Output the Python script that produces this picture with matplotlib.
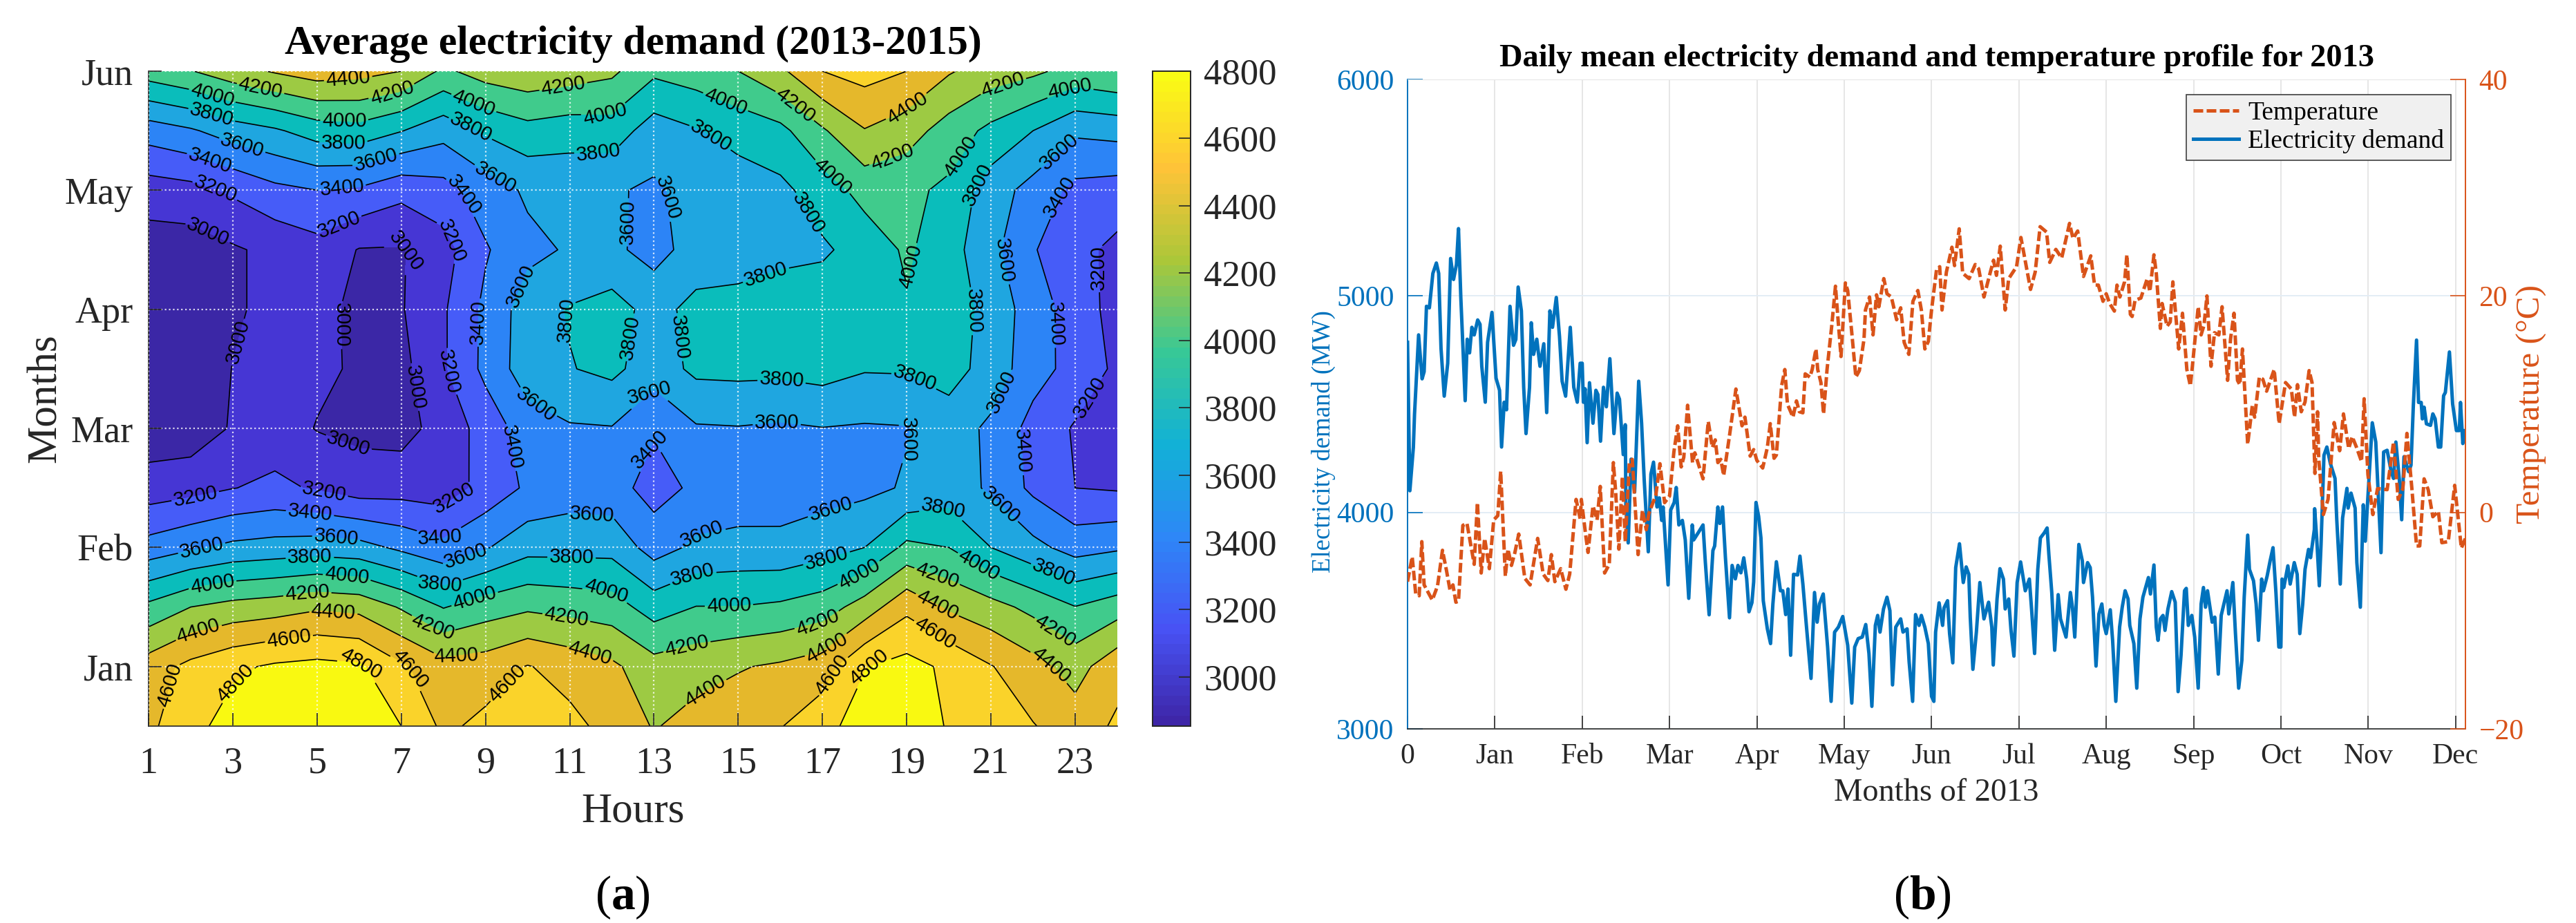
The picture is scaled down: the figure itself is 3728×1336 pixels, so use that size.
import matplotlib
matplotlib.use("Agg")
import matplotlib.pyplot as plt
import numpy as np
from matplotlib.colors import LinearSegmentedColormap, Normalize
from matplotlib.cm import ScalarMappable

plt.rcParams['font.family'] = ['Liberation Serif', 'DejaVu Serif']
plt.rcParams['mathtext.fontset'] = 'custom'
plt.rcParams['mathtext.rm'] = 'Liberation Serif'
plt.rcParams['mathtext.bf'] = 'Liberation Serif:bold'

W, H = 3728, 1336

# ---- panel a: hours x 12 rows, bottom row first
hours = np.arange(1, 25)
rows = np.arange(1, 13)
month_labels = ['Jan', 'Feb', 'Mar', 'Apr', 'May', 'Jun']
r1 = [4560,4730,4890,4960,4980,4920,4800,4560,4650,4740,4650,4540,4385,4480,4520,4590,4730,4900,4950,4780,4700,4610,4500,4630]
r2 = [4500,4655,4760,4830,4860,4830,4630,4470,4500,4610,4530,4440,4277,4320,4385,4430,4500,4790,4870,4760,4610,4470,4320,4535]
r3 = [4050,4200,4270,4307,4370,4340,4180,3990,4100,4165,4130,4090,3908,4005,4005,4035,4100,4290,4550,4370,4270,4145,4005,4109]
r4 = [3480,3570,3648,3678,3700,3672,3560,3455,3583,3731,3735,3734,3516,3640,3665,3655,3720,3800,4050,4000,3800,3660,3520,3569]
r5 = [3090,3130,3195,3240,3180,3100,3113,3092,3270,3432,3500,3481,3319,3440,3480,3500,3520,3550,3620,3700,3570,3355,3200,3180]
r6 = [2880,2880,3020,3100,2990,2950,2930,3075,3280,3500,3580,3590,3420,3580,3590,3570,3595,3580,3590,3700,3560,3330,3180,3080]
r7 = [2850,2860,3005,3100,3045,2970,2940,3175,3450,3712,3790,3850,3692,3846,3855,3850,3880,3815,3820,3880,3720,3480,3330,3160]
r8 = [2850,2860,2970,3060,3050,2960,2985,3176,3445,3700,3815,3882,3730,3860,3860,3880,3920,3930,3980,3920,3720,3510,3300,3130]
r9 = [2900,2900,2975,3050,3126,2990,2985,3120,3380,3550,3620,3640,3530,3680,3720,3760,3770,3880,4030,3880,3660,3415,3260,3150]
r10 = [3100,3135,3233,3348,3400,3370,3260,3325,3500,3630,3650,3620,3570,3670,3700,3750,3900,4070,4045,3960,3693,3530,3344,3313]
r11 = [3495,3575,3696,3773,3892,3920,3808,3675,3830,3930,3890,3910,3700,3785,3870,3945,4175,4390,4290,4110,3950,3800,3635,3665]
r12 = [4100,4190,4320,4420,4500,4470,4400,4160,4290,4345,4300,4240,4040,4100,4200,4360,4600,4675,4600,4420,4300,4240,4130,4190]
demand_grid = np.array([r1, r2, r3, r4, r5, r6, r7, r8, r9, r10, r11, r12])
line_levels = np.arange(3000, 4801, 200)
fill_levels = [2700] + list(line_levels) + [5200]
band_colors = ['#3b27a6', '#4636d4', '#465cf8', '#2c84f6', '#1fa6e0', '#0abdbb',
               '#40cb8c', '#9dca43', '#e5b82b', '#fad32a', '#f9f911']
parula_keys = [(0.2422,0.1504,0.6603), (0.2810,0.3228,0.9579), (0.1786,0.5289,0.9682),
               (0.0689,0.6948,0.8394), (0.2161,0.7843,0.5923), (0.6720,0.7793,0.2227),
               (0.9970,0.7659,0.2199), (0.9769,0.9839,0.0805)]
# where the contour labels sit in the reference (hour, row)
label_spots = [(5.74,11.86),(3.65,11.68),(6.78,11.64),(10.84,11.77),(2.5,11.56),(8.72,11.46),(11.84,11.41),(5.65,11.18),
 (2.5,11.27),(5.63,10.82),(8.67,11.08),(11.68,10.7),(3.23,10.77),(6.39,10.52),(9.24,10.23),(2.47,10.52),(5.59,10.04),
 (8.49,9.92),(2.6,10.04),(5.53,9.4),(8.2,9.15),(2.44,9.34),(7.1,8.98),(9.71,8.42),(12.45,9.46),(13.64,9.9),(3.12,7.45),
 (5.7,7.74),(8.75,7.78),(10.81,7.81),(12.43,7.53),(13.58,7.53),(7.2,6.68),(8.2,6.97),(10.26,6.49),(13,6.51),(5.72,5.69),
 (9.6,5.68),(12.98,5.62),(2.13,4.79),(5.16,4.9),(8.2,4.88),(4.83,4.56),(7.93,4.19),(11.51,4.42),(2.27,3.95),(5.45,4.13),
 (8.54,3.84),(4.83,3.83),(7.93,3.4),(11.04,3.78),(2.52,3.37),(5.71,3.51),(8.75,3.12),(11.86,3.21),(4.77,3.23),(7.8,2.72),
 (10.92,2.83),(2.23,2.45),(5.37,2.78),(8.32,2.14),(11.44,2.12),(4.33,2.48),(7.31,1.99),(9.43,1.77),(1.58,1.67),(3.1,1.69),
 (6,1.99),(14.69,11.47),(16.29,11.37),(21.3,11.72),(22.88,11.69),(19,11.39),(14.33,10.89),(18.7,10.46),(20.17,10.62),
 (17.14,10.15),(20.7,10.09),(16.8,9.67),(22.6,10.66),(22.66,9.88),(19.03,8.73),(21.28,8.81),(23.46,8.69),(15.8,8.28),
 (20.61,7.97),(22.53,7.76),(16.03,6.82),(19.14,6.78),(21.24,6.62),(23.37,6.51),(15.91,6.14),(18.88,5.83),(21.75,5.62),
 (21.19,4.69),(19.86,4.68),(17.25,4.51),(14.16,4.16),(22.48,3.57),(20.68,3.67),(17.12,3.76),(13.93,3.51),(19.65,3.37),
 (17.88,3.55),(14.78,3),(22.57,2.65),(19.68,2.97),(16.92,2.66),(13.8,2.28),(19.59,2.47),(17.03,2.39),(22.53,2.14),
 (14.07,1.77),(17.14,1.89),(18,2.05)]

# ---- panel b: turning points of the daily curves
demand_day = [0,0.8,2,2.4,3.8,5,5.7,6.5,7.5,8.7,9.9,10.7,11.5,12.6,13.8,14.8,15.8,16.8,17.5,18.3,19.8,20.5,21.3,22.1,22.9,24.1,24.9,25.5,26.7,27.5,29,30.4,31.6,32.3,33.2,34,35.2,36.4,37.2,38,39.1,39.9,40.7,41.9,42.5,43.3,44.4,45.5,46.8,47.8,48.9,49.8,51.1,52.2,53.1,54.3,55.9,57.1,58.3,59.3,
60,60.4,61,61.7,62.5,63.7,64.7,65.4,66.3,67.3,68.3,69.5,70.9,72,72.8,74.1,74.8,75,75.8,76.8,78,79.4,80.4,81.3,82.7,83.6,84.5,85.7,86.5,87.3,87.8,89.5,90.4,91.6,92.3,93.2,94.4,95.4,96.6,97.8,98.3,99.9,101.5,102.3,103.6,104.9,105.5,106.6,107.3,108.2,109.2,110.6,111.5,112.6,113.5,114.5,115.5,116.5,117.3,118.3,118.9,119.7,
120.6,121.4,122.2,123.6,124.7,125.5,126.7,128.1,128.9,129.9,130.7,131.6,132.6,134,134.8,135.8,137,138.6,139.8,140.7,141.5,142.8,144.3,145.5,146.7,148,149.5,151.2,152.6,153.6,154.8,156.2,157.4,158.5,159.5,160.7,161.5,162.3,163.5,164.7,165.7,166.6,167.7,169.4,170.2,171.6,172.3,173.5,174.5,175.7,176.5,177.7,178.9,180,
180.8,181.4,182.6,183.8,184.3,185.5,186.2,187.3,188.3,189.6,190.9,191.9,192.8,193.3,194.2,195.4,196.6,198,199.6,200.7,201.2,202.5,203.5,204.7,205.3,206.5,207.3,208.3,209.4,210.6,212.2,213.6,214.4,215.4,216.5,217.4,218.7,219.7,220.3,221.3,222.3,223.5,224.3,226.2,227.7,228.4,229.2,230.6,231.8,232.2,233.6,234.5,235.3,236.5,237.5,238.5,239.3,240,
241.4,242.2,243.3,244.6,245.5,246.5,247.5,248.1,249.5,250.5,251.6,252.6,254.5,255.2,256.4,257.2,257.8,258.6,259.5,260.2,261.2,262.5,263.7,264.7,265.7,266.9,267.5,268.2,269.4,270.4,271.6,272.6,273.4,274.1,274.8,276.4,277.3,278.5,279.5,281.5,282.1,283.5,284.4,285.5,286.6,287.4,288.6,289.2,290.6,291.5,292.3,293.4,294,295.3,296.3,297.3,298.3,299.3,300,
300.4,301,302.4,303.2,304.6,305.6,306.5,307.5,308.3,309.5,310.2,311.5,311.6,312.3,313.2,313.8,314.8,315.8,317,318.6,319.2,320.4,321.2,322.7,323.1,324.1,325.5,326.1,327.3,328.3,329,330,331.4,332.6,333.2,334.4,335.3,336.5,337.9,338.7,339.5,340.7,341.5,342.3,343.9,344.7,345.5,346.6,347.3,348.2,348.6,349.2,350,351.4,352.2,353,354.1,354.9,355.9,356.5,357.9,359,360.3,361.3,361.7,362.5,363,363.4]
demand_mw = [4786,4100,4300,4454,4820,4617,4650,4952,4945,5104,5152,5104,4758,4537,4689,5173,5076,5145,5311,4993,4516,4800,4737,4855,4820,4889,4869,4675,4509,4786,4924,4620,4564,4302,4509,4474,4952,4772,4799,5041,4931,4578,4364,4578,4876,4730,4800,4675,4779,4461,4931,4855,4993,4813,4606,4537,4855,4578,4509,4689,
4689,4509,4571,4322,4599,4412,4564,4544,4329,4578,4488,4710,4364,4551,4523,4267,4405,4025,3859,4246,4094,4606,4412,4149,3818,4177,4232,4025,4067,3963,4025,3665,4011,4046,4115,3942,3963,3873,3603,3942,3873,3907,3942,3769,3527,3824,3845,4025,3949,4025,3790,3513,3755,3693,3755,3721,3790,3693,3541,3583,3679,4046,
3982,3882,3592,3462,3394,3577,3772,3638,3638,3528,3646,3340,3714,3711,3798,3669,3478,3233,3630,3493,3577,3623,3378,3127,3447,3470,3519,3386,3119,3378,3417,3424,3482,3348,3104,3478,3524,3447,3554,3608,3546,3203,3470,3508,3447,3462,3310,3127,3528,3478,3524,3470,3394,3150,
3127,3447,3582,3478,3559,3592,3440,3305,3745,3855,3676,3748,3714,3516,3275,3447,3676,3508,3585,3470,3295,3600,3740,3692,3554,3600,3455,3336,3676,3771,3638,3692,3546,3348,3737,3882,3905,3928,3806,3630,3363,3620,3508,3424,3630,3562,3424,3852,3776,3676,3768,3745,3608,3290,3531,3577,3478,3440,
3550,3409,3127,3470,3562,3638,3600,3478,3394,3188,3508,3608,3699,3623,3757,3470,3409,3508,3524,3455,3554,3634,3585,3172,3340,3638,3649,3478,3524,3424,3188,3577,3653,3562,3638,3493,3516,3253,3524,3638,3531,3676,3440,3188,3317,3608,3895,3737,3684,3577,3409,3692,3638,3707,3776,3837,3630,3378,3378,
3692,3653,3753,3669,3768,3714,3440,3577,3737,3829,3791,3921,4017,3882,3661,3852,4264,4302,4226,4157,3966,3669,3974,4111,4020,4089,4020,3768,3562,4035,3867,4096,4414,4325,4157,3814,4279,4287,4188,4157,4325,4150,3966,4257,4188,4218,4493,4796,4508,4508,4432,4486,4409,4402,4455,4432,4302,4302,4539,4554,4741,4501,4378,4378,4508,4318,4378,4363]

temp_day = [0,1.6,2.8,4,4.9,5.7,7.1,8.5,10.3,12,13.4,14.6,15.6,16.6,17.5,19,20.4,22.9,24,25.3,26.5,28.1,29.6,31,32,33.6,34.5,35.7,36.8,38.2,40.3,42.1,44.7,46.6,48.2,49.4,50.6,52.6,54.4,55.7,57.9,59.3,59.7,
61.2,62,63.7,65.1,66.2,67.7,69.3,70.7,71.5,72.6,73.8,74.8,76.2,77.2,79.2,80.7,82,82.9,85.3,86.7,88.3,90,91.5,92.8,94,94.9,96.2,97.9,98.7,101.5,103.3,104.7,105.7,106.6,107.6,108.6,110.6,112.8,114.9,115.9,117.7,118.9,120,
122,123.6,124.6,125.9,126.7,128.5,129.6,130.5,132.4,133.6,134.6,135.8,136.6,138.2,139,140.3,140.9,142,142.9,144.1,145.7,147,147.8,148.9,150.4,151.2,152.6,154,155.2,156.8,157.3,158.7,159.9,161.1,161.9,163.6,164.7,166.2,168,169.4,170.6,172.2,173.6,175.3,176.5,177.7,178.9,180,
181.7,182.8,183.6,185.1,187,187.9,189.5,190.7,192.9,195,196.2,198,200.2,201.3,202.3,203.6,205.3,206.5,209.2,210.7,214,215.6,217.3,219.5,220.6,222.7,224.7,227.4,228.6,230.2,232.2,234.7,236,237.3,238.9,240,
241.2,242.8,243.7,244.7,246.3,247.1,248.3,248.9,249.9,251.9,254.1,255,256.4,257.2,258.6,259.2,260.9,262,262.9,264.9,266.2,267.7,268.9,269.6,271.6,272.6,273.6,274.6,276,277.2,278.7,279.8,281.7,282.7,283.9,285.1,285.9,286.8,288.6,290.2,291,292.6,293.8,295.1,297.7,299.4,
301.6,303.6,304.7,305.7,307,308.3,309.7,310.7,311.7,312.6,313,314.6,316.2,318.3,320.2,321.5,323.3,324.5,326,327.7,328.6,329.9,331.6,333.2,336.5,338.7,340.3,341.9,343.3,345,346.6,347.7,349.2,350.6,352.2,354.1,355.3,357.5,359.7,362,363.4]
temp_c = [-6.4,-4.1,-7.5,-7.7,-2.7,-6.7,-7.4,-8.1,-6.8,-3.5,-5.4,-7.2,-6.7,-8.3,-8.2,-1.2,-1,-4.8,0.9,-5.6,-2.4,-5.2,-0.7,-0.3,3.8,-5.9,-3.4,-4.9,-3.8,-2,-6.1,-6.7,-2.4,-5.7,-6.3,-3.9,-6.4,-5.2,-7.1,-5.7,1.2,-0.6,1.2,
-2.1,-3.7,0.6,-0.7,2.4,-5.6,-4.8,4.6,1.9,-3.4,3.3,-2.7,4.6,4.9,-3.9,0.2,-1.6,-0.1,1.6,4.5,0.9,1.5,5.6,8,4.2,5.1,9.9,4.6,5.5,3.1,8.4,6,6.7,4.6,4.9,3.4,7.1,11.4,8,8.8,5.2,5.8,4.8,
4.1,6,8.2,5,5.3,11.7,13.2,10,8.8,10.3,9.3,9.2,12.8,12.5,13.2,15.1,13.2,12,9.1,13.2,17.2,20.9,18.1,14.4,21.2,20.5,16.6,12.5,13.1,16,18.7,19.9,16.4,20.1,19,21.6,20.2,19.9,17.8,18.9,15.7,14.6,19.5,20.5,18.7,15.1,15.8,18.7,
22.4,22.7,18.7,22.2,24.5,22.8,26.2,22.1,21.6,22.9,22.5,19.9,22.2,23.3,21.9,24.6,18.7,21.6,22.7,25.4,20.6,22.2,26.4,25.9,23.1,24.3,23.5,26.7,25.3,26,21.8,23.7,21,21,19.5,20.2,
19.3,18.6,21,19.9,21.3,23.8,18.3,18.1,19.6,19.8,21.6,20.4,23.8,22.1,17,19.3,17.2,17.6,21.3,15.1,18.4,13.2,11.7,13.5,19,16.4,17.3,20,13.5,16.6,16.4,19,12.2,16,18.4,12.2,11.8,15.1,6.3,9.9,8.8,12.5,12.3,11.2,13.2,8.2,
12,11.4,8.8,11.8,9.3,10.2,13.1,12,3.6,9.3,5,-0.2,1.2,8.3,5.7,9.1,5.9,7,6,4.7,10.5,3.5,-0.2,2.2,2.1,6.5,1.2,2.2,7.3,2.2,-3.1,-3.1,3.1,2.1,-0.4,0.1,-2.8,-2.7,2.5,-3.3,-2.4]
month_ticks = np.arange(0, 361, 30)
month_tick_labels = ['0', 'Jan', 'Feb', 'Mar', 'Apr', 'May', 'Jun', 'Jul', 'Aug', 'Sep', 'Oct', 'Nov', 'Dec']

BLUE = '#0072BD'
ORANGE = '#D95319'
DARK = '#262626'


def box(x0, y0, x1, y1):
    return [x0 / W, 1 - y1 / H, (x1 - x0) / W, (y1 - y0) / H]


fig = plt.figure(figsize=(W / 100, H / 100), dpi=100, facecolor='white')

# ---- contour panel
ax = fig.add_axes(box(215, 103, 1617, 1051))
ax.contourf(hours, rows, demand_grid, levels=fill_levels, colors=band_colors)
cs = ax.contour(hours, rows, demand_grid, levels=line_levels, colors='black', linewidths=1.2)
ax.set_xlim(1, 24)
ax.set_ylim(1, 12)
labs = ax.clabel(cs, fmt='%d', fontsize=21, inline=True, inline_spacing=6, manual=label_spots)
for t in labs:
    t.set_fontfamily('Liberation Sans')
ax.set_xticks(np.arange(1, 24, 2))
ax.set_yticks(np.arange(2, 13, 2))
ax.set_yticklabels(month_labels)
ax.set_axisbelow(False)
ax.grid(True, color='white', linestyle=':', linewidth=1.6, alpha=0.8)
ax.tick_params(direction='in', length=14, width=1.2, labelsize=39, colors=DARK, pad=16)
ax.tick_params(axis='x', pad=21)
for side in ['top', 'right']:
    ax.spines[side].set_visible(False)
for side in ['left', 'bottom']:
    ax.spines[side].set_color(DARK)
    ax.spines[side].set_linewidth(1.2)
ax.set_xlabel('Hours', fontsize=44, color=DARK, labelpad=12)
ax.set_ylabel('Months', fontsize=44, color=DARK, labelpad=0)
ax.set_title('Average electricity demand (2013-2015)', fontsize=43, fontweight='bold', pad=18)

# ---- colorbar
cax = fig.add_axes(box(1668, 103, 1723, 1051))
parula = LinearSegmentedColormap.from_list('parula', parula_keys, N=64)
cb = fig.colorbar(ScalarMappable(Normalize(2854, 4800), parula), cax=cax)
cb.set_ticks(np.arange(3000, 4801, 200))
cb.ax.tick_params(direction='in', length=12, width=1.2, labelsize=38, colors=DARK, pad=14)
cb.outline.set_edgecolor(DARK)
cb.outline.set_linewidth(1.4)

# ---- daily curves
ax2 = fig.add_axes(box(2037, 115, 3568, 1055))
ax2.plot(demand_day, demand_mw, color=BLUE, linewidth=3.6, label='Electricity demand', zorder=3)
ax2.set_xlim(0, 363.4)
ax2.set_ylim(3000, 6000)
ax2.set_xticks(month_ticks)
ax2.set_xticklabels(month_tick_labels)
ax2.set_yticks(np.arange(3000, 6001, 1000))
ax2.grid(True, axis='x', color='#e6e6e6', linewidth=1.4)
ax2.grid(True, axis='y', color='#e3edf5', linewidth=1.4)
ax2.tick_params(axis='x', direction='in', length=14, width=1.2, labelsize=30, colors=DARK, pad=15)
ax2.tick_params(axis='y', direction='in', length=16, width=1.2, labelsize=30, colors=BLUE, pad=14)
ax2.spines['top'].set_color('#e6e6e6')
ax2.spines['left'].set_color(BLUE)
ax2.spines['left'].set_linewidth(1.4)
ax2.spines['bottom'].set_color(DARK)
ax2.spines['bottom'].set_linewidth(1.2)
ax2.spines['right'].set_visible(False)
ax2.set_xlabel('Months of 2013', fontsize=33.4, color=DARK, labelpad=9)
ax2.set_ylabel('Electricity demand (MW)', fontsize=26.5, color=BLUE, labelpad=1, y=0.4426)
ax2.set_title('Daily mean electricity demand and temperature profile for 2013',
              fontsize=33.4, fontweight='bold', pad=14)

ax3 = ax2.twinx()
ax3.patch.set_visible(False)
ax3.plot(temp_day, temp_c, color=ORANGE, linewidth=3.6, linestyle=(0, (2.8, 1.0)),
         label='Temperature', zorder=4)
ax3.set_ylim(-20, 40)
ax3.set_yticks(np.arange(-20, 41, 20))
ax3.tick_params(axis='y', direction='in', length=16, width=1.2, labelsize=30, colors=ORANGE, pad=14)
ax3.spines['right'].set_color(ORANGE)
ax3.spines['right'].set_linewidth(1.4)
for side in ['top', 'left', 'bottom']:
    ax3.spines[side].set_visible(False)
ax3.set_ylabel('Temperature (\u00b0C)', fontsize=35.5, color=ORANGE, labelpad=-8)

h2, l2 = ax2.get_legend_handles_labels()
h3, l3 = ax3.get_legend_handles_labels()
leg = ax3.legend(h3 + h2, l3 + l2, loc='upper right', bbox_to_anchor=(0.9865, 0.977), fontsize=27,
                 fancybox=False, framealpha=1, facecolor='#f0f0f0', edgecolor='#404040',
                 labelspacing=0.15, handlelength=1.75, handletextpad=0.35, borderpad=0.27, borderaxespad=0)
leg.get_frame().set_linewidth(1.2)

# ---- panel letters
fig.text(901 / W, 1 - 1299 / H, r'($\mathbf{a}$)', fontsize=50, ha='center', va='center', color='black')
fig.text(2782 / W, 1 - 1299 / H, r'($\mathbf{b}$)', fontsize=50, ha='center', va='center', color='black')

fig.savefig('out.png', dpi=100)
